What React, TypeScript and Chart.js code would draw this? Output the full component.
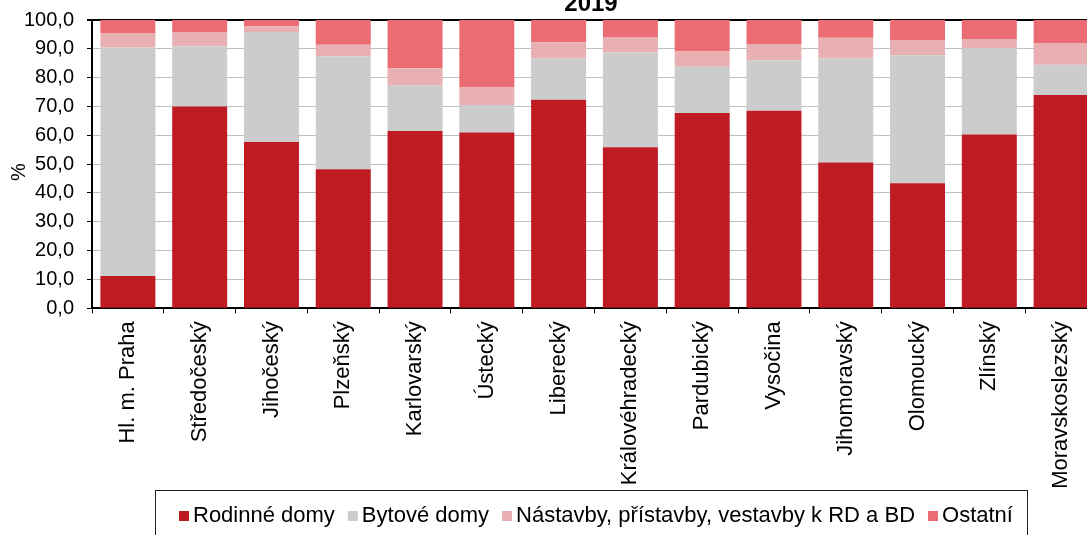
import React, { useEffect, useRef } from "react";
import { Chart, registerables } from "chart.js";

Chart.register(...registerables);

const chartTitle = "2019";
const yAxisTitle = "%";
const categories = [
  "Hl. m. Praha",
  "Středočeský",
  "Jihočeský",
  "Plzeňský",
  "Karlovarský",
  "Ústecký",
  "Liberecký",
  "Královéhradecký",
  "Pardubický",
  "Vysočina",
  "Jihomoravský",
  "Olomoucký",
  "Zlínský",
  "Moravskoslezský",
];
const seriesLabels = [
  "Rodinné domy",
  "Bytové domy",
  "Nástavby, přístavby, vestavby k RD a BD",
  "Ostatní",
];
const rodinneDomy = [11.2, 70.0, 57.7, 48.2, 61.5, 61.0, 72.3, 55.9, 67.7, 68.5, 50.6, 43.4, 60.3, 74.0];
const bytoveDomy = [79.3, 20.9, 38.1, 39.1, 15.7, 9.5, 14.4, 32.8, 16.1, 17.5, 36.1, 44.4, 29.9, 10.5];
const nastavby = [4.8, 4.9, 2.0, 4.1, 6.1, 6.1, 5.6, 5.4, 5.3, 5.7, 7.1, 5.3, 3.2, 7.5];
const ostatni = [4.7, 4.2, 2.2, 8.6, 16.7, 23.4, 7.7, 5.9, 10.9, 8.3, 6.2, 6.9, 6.6, 8.0];
const yMin = 0;
const yMax = 100;
const yStep = 10;

const colors = ["#BE1B23", "#CCCCCC", "#E8B0B3", "#EB6C73"];
const FONT = '"Liberation Sans", Arial, sans-serif';

const titlePlugin = {
  id: "fixedTitle",
  afterDraw(chart: any) {
    const ctx = chart.ctx;
    ctx.save();
    ctx.font = `bold 24px ${FONT}`;
    ctx.fillStyle = "#000";
    ctx.textAlign = "center";
    ctx.textBaseline = "alphabetic";
    ctx.fillText(chartTitle, 591, 11);
    // y axis title
    ctx.font = `20px ${FONT}`;
    ctx.translate(19, 172);
    ctx.rotate(-Math.PI / 2);
    ctx.textBaseline = "middle";
    ctx.fillText(yAxisTitle, 0, 0);
    ctx.restore();
  },
};

const legendPlugin = {
  id: "boxedLegend",
  afterDraw(chart: any) {
    const ctx = chart.ctx;
    ctx.save();
    ctx.font = `22px ${FONT}`;
    ctx.strokeStyle = "#222";
    ctx.lineWidth = 1;
    ctx.strokeRect(155.5, 490.5, 872, 80);
    let x = 179;
    const cy = 516;
    chart.data.datasets.forEach((ds: any) => {
      ctx.fillStyle = ds.backgroundColor;
      ctx.fillRect(x, cy - 5, 10, 10);
      x += 14;
      ctx.fillStyle = "#000";
      ctx.textAlign = "left";
      ctx.textBaseline = "middle";
      ctx.fillText(ds.label, x, cy);
      x += ctx.measureText(ds.label).width + 13;
    });
    ctx.restore();
  },
};

export default function App() {
  const ref = useRef<HTMLCanvasElement | null>(null);

  useEffect(() => {
    if (!ref.current) return;
    const series = [rodinneDomy, bytoveDomy, nastavby, ostatni];
    const chart = new Chart(ref.current, {
      type: "bar",
      data: {
        labels: categories,
        datasets: series.map((d, i) => ({
          label: seriesLabels[i],
          data: d,
          backgroundColor: colors[i],
          borderWidth: 0,
          categoryPercentage: 1,
          barPercentage: 0.766,
        })),
      },
      options: {
        animation: false,
        responsive: false,
        devicePixelRatio: 1,
        layout: { padding: { left: 0, top: 20, right: 3, bottom: 0 } },
        plugins: {
          legend: { display: false },
          title: { display: false },
          tooltip: { enabled: false },
        },
        scales: {
          x: {
            stacked: true,
            grid: {
              display: true,
              drawOnChartArea: false,
              drawTicks: true,
              tickLength: 5,
              tickColor: "#000",
              tickWidth: 1,
              offset: true,
            },
            border: { display: true, color: "#000", width: 2 },
            ticks: {
              minRotation: 90,
              maxRotation: 90,
              autoSkip: false,
              padding: 8,
              color: "#000",
              font: { family: FONT, size: 22 },
            },
            afterFit(scale: any) {
              scale.height = 535 - 308.3;
              scale.paddingLeft = 0;
              scale.paddingRight = 0;
            },
          },
          y: {
            stacked: true,
            min: yMin,
            max: yMax,
            grid: {
              color: (c: any) => (c.tick && c.tick.value === yMax ? "#000" : "#C0C0C0"),
              lineWidth: (c: any) => (c.tick && c.tick.value === yMax ? 2 : 1),
              tickLength: 5,
              tickColor: "#000",
              drawTicks: true,
            },
            border: { display: true, color: "#000", width: 2 },
            ticks: {
              stepSize: yStep,
              padding: 13,
              color: "#000",
              font: { family: FONT, size: 20 },
              callback: (v: any) => Number(v).toFixed(1).replace(".", ","),
            },
            afterFit(scale: any) {
              scale.width = 92;
              scale.paddingTop = 0;
              scale.paddingBottom = 0;
            },
          },
        },
      },
      plugins: [titlePlugin, legendPlugin],
    });
    return () => chart.destroy();
  }, []);

  return (
    <div
      style={{
        position: "fixed",
        left: 0,
        top: 0,
        width: 1087,
        height: 535,
        overflow: "hidden",
        background: "#fff",
      }}
    >
      <canvas ref={ref} width={1100} height={535} style={{ display: "block", width: 1100, height: 535 }} />
    </div>
  );
}
